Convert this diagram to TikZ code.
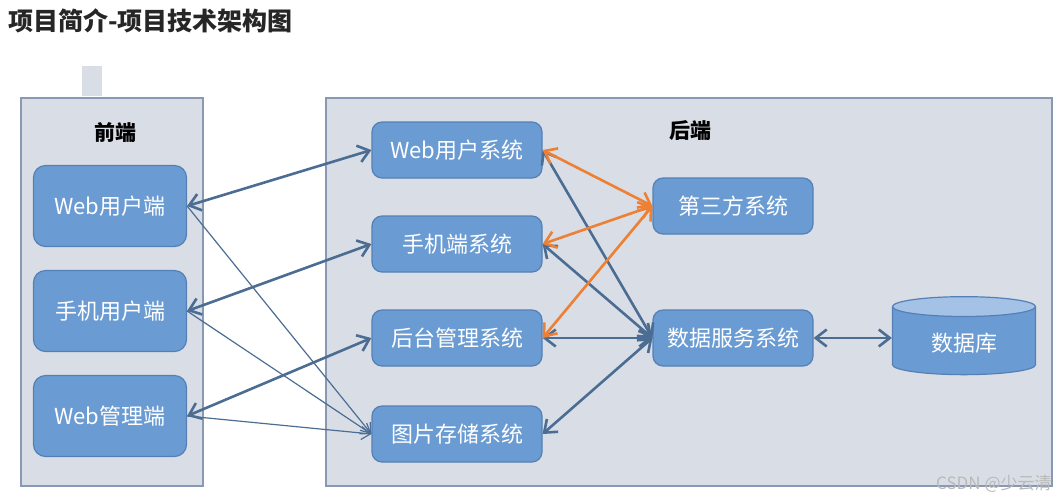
\documentclass[tikz,border=0pt]{standalone}
\usepackage{fontspec}
\setmainfont{Noto Sans CJK SC}
\usetikzlibrary{positioning, shapes.geometric, arrows.meta}
\definecolor{boxblue}{HTML}{6A9BD3}
\definecolor{boxline}{HTML}{5580B5}
\definecolor{panelfill}{HTML}{D9DEE6}
\definecolor{panelline}{HTML}{8999B3}
\definecolor{linkblue}{HTML}{4C6D93}
\definecolor{linkorange}{HTML}{EE8034}
\definecolor{dbtop}{HTML}{A4C2E6}
\tikzset{
	client/.style={draw=boxline, line width=0.6pt, rectangle, rounded corners=6pt, fill=boxblue, text=white, minimum width=76.5pt, minimum height=40.5pt, font=\fontsize{11}{13}\selectfont},
	service/.style={draw=boxline, line width=0.6pt, rectangle, rounded corners=5pt, fill=boxblue, text=white, minimum width=85pt, minimum height=28pt, font=\fontsize{11}{13}\selectfont},
	database/.style={cylinder, shape border rotate=90, aspect=0.25, draw=boxline, line width=0.6pt, cylinder uses custom fill, cylinder body fill=boxblue, cylinder end fill=dbtop, minimum width=71.5pt, minimum height=39pt, text=white, font=\fontsize{11}{13}\selectfont},
	panel/.style={draw=panelline, line width=0.8pt, fill=panelfill},
	% for the two panel titles
	heading/.style={font=\fontsize{10.5}{12}\selectfont\bfseries},
	link/.style={linkblue, line width=1.3pt, {Straight Barb[length=5.5pt,width=8.5pt]}-{Straight Barb[length=5.5pt,width=8.5pt]}},
	thinlink/.style={linkblue, line width=0.6pt, -{Straight Barb[length=4.5pt,width=6.5pt]}},
	extlink/.style={link, linkorange},
}
\begin{document}
\begin{tikzpicture}[x=0.5pt, y=-0.5pt, node distance=47pt]
	\useasboundingbox (0,0) rectangle (1056,500);
	
	\node (title) [anchor=west, inner sep=0pt, text=black!85, font=\fontsize{12.5}{15}\selectfont\bfseries] at (8,21) {项目简介-项目技术架构图};
	
	\fill [panelfill] (82,66) rectangle (102,96);
	\draw [panel] (21,98) rectangle (203,486);
	\draw [panel] (326,98) rectangle (1052,486);
	\node (fronthead) [heading] at (115,133) {前端};
	\node (backhead) [heading] at (690,131) {后端};
	
	\node (webclient) [client] at (110,206) {Web用户端};
	\node (mobileclient) [client, below of=webclient, yshift=-5.5pt] {手机用户端};
	\node (adminclient) [client, below of=mobileclient, yshift=-5.5pt] {Web管理端};
	
	\node (websys) [service] at (457,150) {Web用户系统};
	\node (mobilesys) [service, below of=websys] {手机端系统};
	\node (adminsys) [service, below of=mobilesys] {后台管理系统};
	\node (picsys) [service, below of=adminsys, yshift=-1pt] {图片存储系统};
	
	\node (thirdsys) [service, minimum width=80pt] at (733,206) {第三方系统};
	\node (datasys) [service, minimum width=80pt, below of=thirdsys, yshift=-19pt] {数据服务系统};
	\node (database) [database, right of=datasys, xshift=68.5pt, yshift=-2.5pt] {数据库};
	
	\node (mark) [anchor=south east, inner sep=0pt, text=gray!55, font=\fontsize{8.5}{10}\selectfont] at (1052,493) {CSDN @少云清};
	
	\begin{scope}[link]
		\draw (webclient.east) -- (websys.west);
		\draw (mobileclient.east) -- (mobilesys.west);
		\draw (adminclient.east) -- (adminsys.west);
		
		\draw (websys.east) -- (datasys.west);
		\draw (mobilesys.east) -- (datasys.west);
		\draw (adminsys.east) -- (datasys.west);
		\draw (picsys.east) -- (datasys.west);
		\draw (datasys.east) -- (database.west |- datasys.east);
	\end{scope}
	
	\begin{scope}[thinlink]
		\draw (webclient.east) -- (picsys.west);
		\draw (mobileclient.east) -- (picsys.west);
		\draw (adminclient.east) -- (picsys.west);
	\end{scope}
	
	\begin{scope}[extlink]
		\draw (thirdsys.west) -- (websys.east);
		\draw (thirdsys.west) -- (mobilesys.east);
		\draw (thirdsys.west) -- (adminsys.east);
	\end{scope}
\end{tikzpicture}
\end{document}
